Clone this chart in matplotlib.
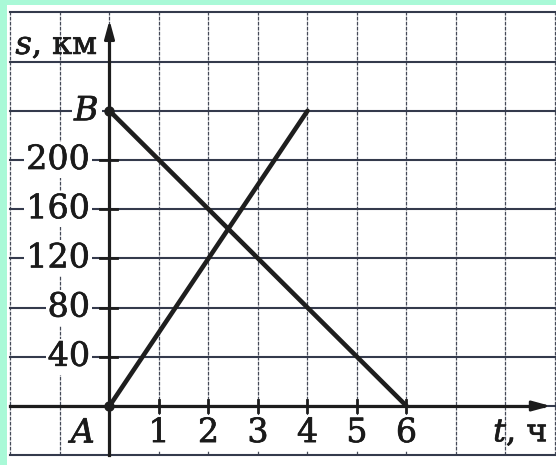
import matplotlib
matplotlib.use("Agg")
import matplotlib.pyplot as plt
import matplotlib.patheffects as pe

plt.rcParams['mathtext.fontset'] = 'dejavuserif'

# Data
t_A = [0, 4]
s_A = [0, 240]
t_B = [0, 6]
s_B = [240, 0]
x_ticks = [1, 2, 3, 4, 5, 6]
y_ticks = [40, 80, 120, 160, 200]
x_grid = list(range(-2, 10))
y_grid = list(range(-40, 321, 40))

W, H = 556, 465
fig = plt.figure(figsize=(W / 100, H / 100), dpi=100)
fig.patch.set_facecolor('#a9f9d7')

ax = fig.add_axes([7 / W, 0, 1 - 7 / W, 1 - 5 / H])
ax.set_facecolor('white')
for sp in ax.spines.values():
    sp.set_visible(False)
ax.set_xticks([])
ax.set_yticks([])

x0 = (7 - 109.5) / 49.5
x1 = (556 - 109.5) / 49.5
y0 = (406 - 465) / 1.23
y1 = (406 - 5) / 1.23
ax.set_xlim(x0, x1)
ax.set_ylim(y0, y1)

gc = '#343a4c'
for gx in x_grid:
    ax.plot([gx, gx], [y_grid[0], y_grid[-1]], color='#454a58', lw=0.9,
            ls=(0, (3, 1)), zorder=1)
for gy in y_grid:
    ax.plot([x_grid[0], x1], [gy, gy], color=gc, lw=1.5, zorder=1)

ax.plot([0, 0], [y_grid[0], 300], color='#1c1c1c', lw=2.3, zorder=3)
ax.plot([x_grid[0], 8.75], [0, 0], color='#1c1c1c', lw=2.3, zorder=3)
ax.annotate('', xy=(0, 316), xytext=(0, 290),
            arrowprops=dict(arrowstyle='-|>,head_length=1.1,head_width=0.3',
                            color='#1c1c1c', lw=2), zorder=4)
ax.annotate('', xy=(8.97, 0), xytext=(8.5, 0),
            arrowprops=dict(arrowstyle='-|>,head_length=1.1,head_width=0.3',
                            color='#1c1c1c', lw=2), zorder=4)

for tx in x_ticks:
    ax.plot([tx, tx], [-5, 5], color='#1c1c1c', lw=2.0, zorder=3)
for ty in y_ticks:
    ax.plot([-0.2, 0.15], [ty, ty], color='#1c1c1c', lw=2.0, zorder=3)

ax.plot(t_A, s_A, color='#1e1e1e', lw=3.3, solid_capstyle='round', zorder=5)
ax.plot(t_B, s_B, color='#1e1e1e', lw=3.3, solid_capstyle='round', zorder=5)
ax.plot([0, 0], [0, 240], 'o', color='#1e1e1e', ms=6.5, zorder=6)

fs = 24
tc = '#1a1a1a'
thick = [pe.withStroke(linewidth=0.5, foreground=tc)]
bb = dict(facecolor='white', edgecolor='none', pad=1.5)
for ty in y_ticks:
    ax.text(-0.39, ty, str(ty), ha='right', va='center', fontsize=fs,
            family='DejaVu Serif', color=tc, bbox=bb, zorder=4,
            path_effects=thick)
for tx in x_ticks:
    ax.text(tx, -22, str(tx), ha='center', va='center', fontsize=fs,
            family='DejaVu Serif', color=tc, bbox=bb, zorder=4,
            path_effects=thick)

ax.text(-0.2, 240, '$B$', ha='right', va='center', fontsize=fs,
        color=tc, bbox=bb, zorder=4, path_effects=thick)
ax.text(-0.24, -22, '$A$', ha='right', va='center', fontsize=fs,
        color=tc, bbox=bb, zorder=4, path_effects=thick)
ax.text(-1.9, 293, '$s$, км', ha='left', va='center', fontsize=fs - 1,
        family='DejaVu Serif', color=tc, zorder=4, path_effects=thick)
ax.text(7.75, -22, '$t$, ч', ha='left', va='center', fontsize=fs - 1,
        family='DejaVu Serif', color=tc, zorder=4, path_effects=thick)

fig.savefig('out.png', dpi=100, facecolor=fig.get_facecolor())
